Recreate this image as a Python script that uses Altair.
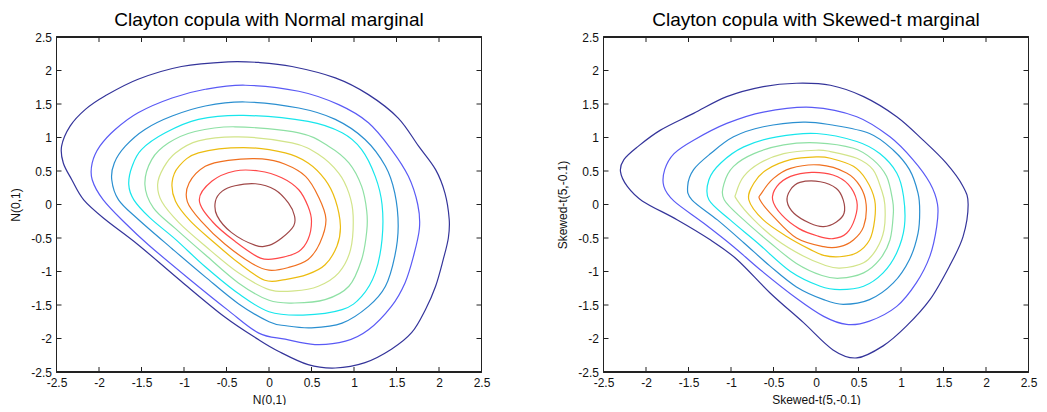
import altair as alt
import pandas as pd

TICKS = [-2.5, -2, -1.5, -1, -0.5, 0, 0.5, 1, 1.5, 2, 2.5]
INNER_TICKS = [-2, -1.5, -1, -0.5, 0, 0.5, 1, 1.5, 2]
LEVELS = ["L1", "L2", "L3", "L4", "L5", "L6", "L7", "L8", "L9", "L10"]
LEVEL_COLORS = ["#34349a", "#5a5af5", "#2a8fd0", "#18e6ec", "#8ee0a4",
                "#d2e48a", "#ecbc10", "#f07020", "#ff4848", "#a04848"]

TITLE_LEFT = "Clayton copula with Normal marginal"
TITLE_RIGHT = "Clayton copula with Skewed-t marginal"
AXIS_LEFT = "N(0,1)"
AXIS_RIGHT = "Skewed-t(5,-0.1)"

# ---- left panel contours (Normal marginal), outermost to innermost ----
N1 = [(-1.54, 1.87), (-1.03, 2.06), (-0.48, 2.13), (-0.12, 2.12), (0.27, 2.06), (0.78, 1.89),
      (1.17, 1.64), (1.52, 1.29), (1.76, 0.87), (1.96, 0.52), (2.07, 0.17), (2.12, -0.22),
      (2.11, -0.50), (2.05, -0.82), (1.96, -1.22), (1.84, -1.57), (1.68, -1.91), (1.44, -2.16),
      (1.13, -2.36), (0.78, -2.44), (0.46, -2.39), (0.11, -2.19), (-0.12, -2.02), (-0.52, -1.68),
      (-1.03, -1.15), (-1.54, -0.60), (-1.93, -0.22), (-2.18, 0.07), (-2.32, 0.37), (-2.42, 0.62),
      (-2.44, 0.87), (-2.34, 1.17), (-2.16, 1.42), (-1.93, 1.62)]
N2 = [(-1.14, 1.59), (-0.75, 1.72), (-0.28, 1.78), (0.35, 1.69), (0.82, 1.49), (1.17, 1.22),
      (1.44, 0.82), (1.64, 0.42), (1.75, 0.00), (1.77, -0.35), (1.70, -0.77), (1.60, -1.17),
      (1.44, -1.52), (1.17, -1.87), (0.90, -2.04), (0.54, -2.09), (0.19, -2.01), (-0.12, -1.92),
      (-0.48, -1.58), (-0.95, -1.10), (-1.42, -0.60), (-1.69, -0.28), (-1.95, 0.07), (-2.08, 0.37),
      (-2.08, 0.62), (-1.99, 0.87), (-1.81, 1.12), (-1.54, 1.37)]
N3 = [(-1.14, 1.32), (-0.75, 1.47), (-0.28, 1.53), (0.35, 1.44), (0.78, 1.27), (1.13, 0.97),
      (1.37, 0.57), (1.48, 0.17), (1.52, -0.32), (1.48, -0.77), (1.37, -1.22), (1.17, -1.52),
      (0.86, -1.77), (0.50, -1.84), (0.20, -1.81), (0.00, -1.75), (-0.36, -1.48), (-0.75, -1.08),
      (-1.14, -0.66), (-1.54, -0.22), (-1.77, 0.07), (-1.85, 0.37), (-1.82, 0.62), (-1.69, 0.87),
      (-1.46, 1.12)]
N4 = [(-1.22, 1.07), (-0.83, 1.27), (-0.30, 1.33), (0.46, 1.24), (0.86, 1.07), (1.09, 0.82),
      (1.25, 0.42), (1.33, 0.00), (1.33, -0.52), (1.25, -1.02), (1.09, -1.37), (0.86, -1.57),
      (0.40, -1.65), (0.00, -1.60), (-0.36, -1.33), (-0.75, -0.93), (-1.10, -0.52), (-1.40, -0.20),
      (-1.59, 0.07), (-1.65, 0.30), (-1.61, 0.57), (-1.50, 0.82)]
N5 = [(-1.18, 0.92), (-0.87, 1.09), (-0.40, 1.16), (0.35, 1.07), (0.70, 0.87), (0.94, 0.62),
      (1.09, 0.27), (1.15, -0.10), (1.15, -0.40), (1.09, -0.82), (0.94, -1.22), (0.66, -1.42),
      (0.30, -1.47), (0.00, -1.43), (-0.36, -1.17), (-0.75, -0.75), (-1.10, -0.36), (-1.36, -0.05),
      (-1.46, 0.30), (-1.38, 0.67)]
N6 = [(-1.10, 0.77), (-0.83, 0.95), (-0.36, 1.01), (0.27, 0.92), (0.58, 0.75), (0.82, 0.47),
      (0.94, 0.17), (0.99, -0.17), (0.96, -0.67), (0.82, -1.02), (0.58, -1.22), (0.30, -1.29),
      (0.00, -1.27), (-0.36, -1.02), (-0.75, -0.62), (-1.06, -0.27), (-1.26, 0.04), (-1.31, 0.30),
      (-1.24, 0.55)]
N7 = [(-1.06, 0.57), (-0.83, 0.77), (-0.30, 0.85), (0.19, 0.77), (0.46, 0.62), (0.66, 0.37),
      (0.78, 0.07), (0.84, -0.32), (0.80, -0.62), (0.66, -0.90), (0.46, -1.04), (0.19, -1.12),
      (-0.05, -1.13), (-0.36, -0.87), (-0.67, -0.54), (-0.93, -0.24), (-1.10, 0.05), (-1.14, 0.33)]
N8 = [(-0.75, 0.57), (-0.48, 0.66), (-0.08, 0.68), (0.19, 0.60), (0.43, 0.42), (0.58, 0.12),
      (0.67, -0.22), (0.60, -0.57), (0.46, -0.82), (0.23, -0.94), (0.00, -0.98), (-0.20, -0.88),
      (-0.52, -0.59), (-0.79, -0.26), (-0.96, 0.04), (-0.94, 0.32)]
N9 = [(-0.67, 0.35), (-0.40, 0.50), (-0.12, 0.50), (0.15, 0.40), (0.35, 0.22), (0.46, -0.03),
      (0.50, -0.25), (0.46, -0.52), (0.35, -0.70), (0.11, -0.80), (-0.10, -0.80),
      (-0.40, -0.55), (-0.67, -0.25), (-0.82, 0.07)]
N10 = [(-0.55, 0.20), (-0.40, 0.28), (-0.16, 0.31), (0.07, 0.22), (0.23, 0.02), (0.30, -0.17),
       (0.29, -0.32), (0.15, -0.50), (0.00, -0.61), (-0.16, -0.61), (-0.44, -0.42), (-0.61, -0.17),
       (-0.63, 0.05)]

# ---- right panel contours (Skewed-t marginal) ----
S1 = [(-1.05, 1.61), (-0.62, 1.76), (-0.23, 1.81), (0.17, 1.78), (0.56, 1.61), (0.95, 1.31),
      (1.26, 0.96), (1.53, 0.62), (1.73, 0.27), (1.79, 0.00), (1.73, -0.48), (1.57, -0.92),
      (1.34, -1.42), (1.06, -1.82), (0.79, -2.11), (0.48, -2.29), (0.20, -2.17), (-0.15, -1.76),
      (-0.54, -1.32), (-0.93, -0.82), (-1.24, -0.53), (-1.63, -0.23), (-2.04, 0.05), (-2.22, 0.27),
      (-2.30, 0.49), (-2.26, 0.67), (-2.10, 0.86), (-1.83, 1.11), (-1.44, 1.36)]
S2 = [(-1.05, 1.21), (-0.62, 1.38), (-0.05, 1.45), (0.48, 1.31), (0.87, 1.01),
      (1.14, 0.67), (1.34, 0.32), (1.43, 0.00), (1.42, -0.33), (1.34, -0.77), (1.18, -1.17),
      (0.95, -1.52), (0.63, -1.74), (0.36, -1.79), (0.09, -1.67), (-0.23, -1.40), (-0.66, -0.97),
      (-0.97, -0.63), (-1.32, -0.28), (-1.67, 0.05), (-1.79, 0.27), (-1.78, 0.52), (-1.67, 0.76),
      (-1.44, 0.96)]
S3 = [(-0.97, 1.01), (-0.62, 1.16), (-0.15, 1.23), (0.17, 1.19), (0.63, 1.06), (0.91, 0.81),
      (1.10, 0.52), (1.20, 0.17), (1.22, -0.10), (1.20, -0.43), (1.10, -0.82), (0.91, -1.17),
      (0.63, -1.42), (0.32, -1.49), (0.09, -1.42), (-0.23, -1.23), (-0.54, -0.92), (-0.85, -0.57),
      (-1.16, -0.23), (-1.46, 0.07), (-1.51, 0.27), (-1.44, 0.52), (-1.24, 0.76)]
S4 = [(-0.85, 0.86), (-0.46, 1.01), (0.01, 1.06), (0.48, 0.94), (0.75, 0.76), (0.95, 0.47),
      (1.03, 0.12), (1.04, -0.33), (0.95, -0.72), (0.79, -1.02), (0.56, -1.22), (0.28, -1.27),
      (0.05, -1.22), (-0.30, -1.00), (-0.69, -0.57), (-1.01, -0.23), (-1.26, 0.07), (-1.26, 0.37),
      (-1.12, 0.62)]
S5 = [(-0.73, 0.76), (-0.38, 0.89), (0.01, 0.92), (0.44, 0.84), (0.67, 0.67), (0.83, 0.42),
      (0.90, 0.07), (0.91, -0.13), (0.87, -0.53), (0.75, -0.82), (0.56, -1.02), (0.28, -1.10),
      (0.07, -1.06), (-0.23, -0.88), (-0.54, -0.57), (-0.85, -0.23), (-1.08, 0.07), (-1.08, 0.32),
      (-0.97, 0.57)]
S6 = [(-0.66, 0.62), (-0.38, 0.76), (0.00, 0.81), (0.17, 0.79), (0.48, 0.69), (0.67, 0.52),
      (0.77, 0.22), (0.81, 0.00), (0.80, -0.38), (0.71, -0.67), (0.56, -0.87), (0.28, -0.95),
      (0.09, -0.90), (-0.15, -0.77), (-0.46, -0.53), (-0.73, -0.23), (-0.93, 0.07), (-0.94, 0.17),
      (-0.85, 0.42)]
S7 = [(-0.58, 0.52), (-0.30, 0.67), (0.01, 0.71), (0.17, 0.69), (0.44, 0.57), (0.59, 0.37),
      (0.69, 0.07), (0.69, -0.23), (0.63, -0.53), (0.48, -0.72), (0.28, -0.78), (0.09, -0.76),
      (-0.07, -0.67), (-0.34, -0.48), (-0.62, -0.23), (-0.79, 0.07), (-0.73, 0.32)]
S8 = [(-0.50, 0.39), (-0.30, 0.54), (0.04, 0.59), (0.36, 0.47), (0.52, 0.27), (0.59, 0.00),
      (0.56, -0.33), (0.44, -0.53), (0.28, -0.63), (0.09, -0.63), (-0.23, -0.50), (-0.50, -0.18),
      (-0.66, 0.07), (-0.64, 0.17)]
S9 = [(-0.30, 0.42), (-0.05, 0.48), (0.20, 0.44), (0.38, 0.30), (0.48, 0.05),
      (0.46, -0.20), (0.36, -0.43), (0.20, -0.51), (0.02, -0.47), (-0.20, -0.36), (-0.40, -0.16),
      (-0.51, 0.07), (-0.46, 0.27)]
S10 = [(-0.30, 0.22), (-0.19, 0.33), (0.05, 0.34), (0.24, 0.24), (0.32, 0.07), (0.33, -0.13),
       (0.24, -0.26), (0.09, -0.33), (-0.07, -0.28), (-0.26, -0.13), (-0.34, 0.05)]

NORMAL_CONTOURS = [N1, N2, N3, N4, N5, N6, N7, N8, N9, N10]
SKEWT_CONTOURS = [S1, S2, S3, S4, S5, S6, S7, S8, S9, S10]

W, H = 425, 335
FONT = "Liberation Sans"


def contour_frame(contours):
    rows = []
    for lev, pts in zip(LEVELS, contours):
        for i, (x, y) in enumerate(pts):
            rows.append({"level": lev, "i": i, "x": x, "y": y})
    return pd.DataFrame(rows)


def panel(contours, title, axis_title):
    df = contour_frame(contours)
    xs = alt.Scale(domain=[-2.5, 2.5], nice=False, zero=False)
    ys = alt.Scale(domain=[-2.5, 2.5], nice=False, zero=False)
    common = dict(values=TICKS, labelExpr="'' + datum.value", ticks=False, domain=False,
                  grid=False, labelFont=FONT, labelFontSize=12, labelColor="#111",
                  titleFont=FONT, titleFontSize=12, titleFontWeight="normal", titleColor="#111")
    xaxis = alt.Axis(title=axis_title, labelPadding=5, titlePadding=6, labelFlush=False, **common)
    yaxis = alt.Axis(title=axis_title, labelPadding=5, titlePadding=8, **common)
    lines = alt.Chart(df).mark_line(interpolate="cardinal-closed", strokeWidth=1.2).encode(
        x=alt.X("x:Q", scale=xs, axis=xaxis),
        y=alt.Y("y:Q", scale=ys, axis=yaxis),
        color=alt.Color("level:N", scale=alt.Scale(domain=LEVELS, range=LEVEL_COLORS), legend=None),
        detail="level:N",
        order="i:Q",
    )
    tdf = pd.DataFrame({"t": INNER_TICKS})
    base = alt.Chart(tdf).mark_rule(color="#222", strokeWidth=1)
    xt_b = base.encode(x=alt.X("t:Q", scale=xs, axis=xaxis), y=alt.value(H), y2=alt.value(H - 5))
    xt_t = base.encode(x=alt.X("t:Q", scale=xs, axis=xaxis), y=alt.value(0), y2=alt.value(5))
    yt_l = base.encode(y=alt.Y("t:Q", scale=ys, axis=yaxis), x=alt.value(0), x2=alt.value(5))
    yt_r = base.encode(y=alt.Y("t:Q", scale=ys, axis=yaxis), x=alt.value(W), x2=alt.value(W - 5))
    frame = alt.Chart(tdf).mark_rect(fill=None, stroke="#222", strokeWidth=1).encode(
        x=alt.value(0), x2=alt.value(W), y=alt.value(0), y2=alt.value(H))
    return alt.layer(lines, xt_b, xt_t, yt_l, yt_r, frame).properties(
        width=W, height=H,
        title=alt.TitleParams(title, font=FONT, fontSize=19, fontWeight="normal", color="#000",
                              anchor="middle", baseline="alphabetic", offset=-14),
    )


left = panel(NORMAL_CONTOURS, TITLE_LEFT, AXIS_LEFT)
right = panel(SKEWT_CONTOURS, TITLE_RIGHT, AXIS_RIGHT)

chart = alt.hconcat(left, right, spacing=66).properties(
    padding={"left": 1.5, "top": 3, "right": 0, "bottom": 0}
).configure(background="white").configure_view(strokeWidth=0)

chart.save("out.html", embed_options={"renderer": "svg", "actions": False})
